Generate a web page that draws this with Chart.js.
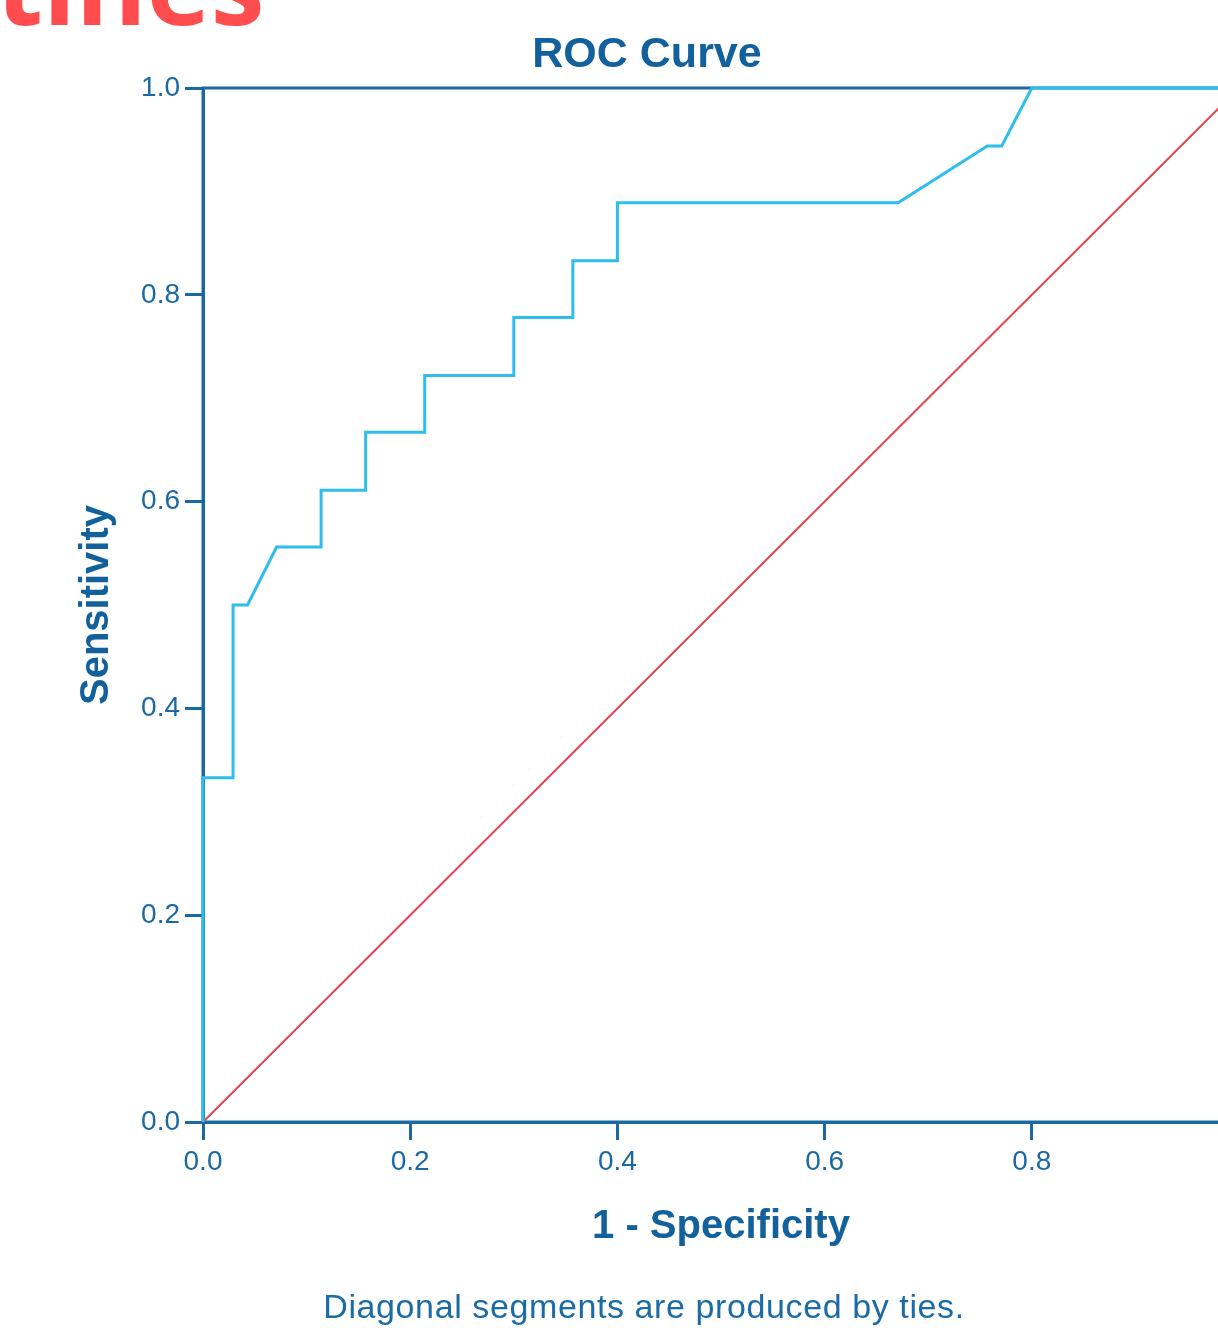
<!DOCTYPE html>
<html>
<head>
<meta charset="utf-8">
<script src="https://cdn.jsdelivr.net/npm/chart.js@4"></script>
<style>
    html, body { margin: 0; padding: 0; background: #fff; overflow: hidden; }
    body { width: 1218px; height: 1335px; position: relative; }
    #heading {
        position: absolute; left: -4px; top: -70px;
        font-family: "Open Sans"; font-weight: 700; font-size: 108px;
        line-height: 108px; color: #ff4d4f; white-space: nowrap;
    }
    #myChart { position: absolute; left: 0; top: 0; }
</style>
</head>
<body>
<div id="heading">tines</div>
<canvas id="myChart" width="1292" height="1335"></canvas>
<script>
// ROC curve
var fpr = [0, 0, 0.029, 0.029, 0.043, 0.071, 0.114, 0.114, 0.157, 0.157, 0.214, 0.214,
           0.300, 0.300, 0.357, 0.357, 0.400, 0.400, 0.671, 0.757, 0.771, 0.800, 1.000];
var tpr = [0, 0.333, 0.333, 0.500, 0.500, 0.556, 0.556, 0.611, 0.611, 0.667, 0.667, 0.722,
           0.722, 0.778, 0.778, 0.833, 0.833, 0.889, 0.889, 0.944, 0.944, 1.000, 1.000];
var refX = [0, 1];
var refY = [0, 1];
var tickValues = [0, 0.2, 0.4, 0.6, 0.8, 1.0];

var blue = "#1b69a3";
var textBlue = "#12619c";

document.addEventListener("DOMContentLoaded", function() {

    var ctx = document.getElementById("myChart").getContext("2d");

    function toPoints(xs, ys) {
        var pts = [];
        for (var i = 0; i < xs.length; i++) {
            pts.push({x: xs[i], y: ys[i]});
        }
        return pts;
    }

    // box round the plot, title and footnote
    var frame = {
        id: "frame",
        beforeDatasetsDraw: function(chart) {
            var a = chart.chartArea;
            var c = chart.ctx;
            c.save();
            c.strokeStyle = blue;
            c.lineWidth = 3;
            c.strokeRect(a.left, a.top, a.right - a.left, a.bottom - a.top);
            c.restore();
        },
        afterDraw: function(chart) {
            var c = chart.ctx;
            c.save();
            c.fillStyle = textBlue;
            c.textAlign = "center";
            c.textBaseline = "alphabetic";
            c.font = "bold 43px 'Liberation Sans'";
            c.fillText("ROC Curve", 647, 67);
            c.font = "34px 'Liberation Sans'";
            c.letterSpacing = "0.6px";
            c.fillStyle = "#1a6ba6";
            c.fillText("Diagonal segments are produced by ties.", 644, 1318);
            c.restore();
        }
    };

    var axis = function(titleText, titlePad) {
        return {
            type: "linear",
            min: 0,
            max: 1,
            afterBuildTicks: function(scale) {
                scale.ticks = tickValues.map(function(v) { return {value: v}; });
            },
            ticks: {
                color: blue,
                font: {family: "Liberation Sans", size: 28},
                padding: 5,
                callback: function(v) { return v.toFixed(1); }
            },
            grid: {
                drawOnChartArea: false,
                drawTicks: true,
                tickLength: 18,
                tickWidth: 3,
                tickColor: blue
            },
            border: {display: true, color: blue, width: 3},
            title: {
                display: true,
                text: titleText,
                color: textBlue,
                font: {family: "Liberation Sans", size: 40, weight: "bold"},
                padding: titlePad
            }
        };
    };

    var xAxis = axis("1 - Specificity", {top: 0, bottom: 84});
    xAxis.afterFit = function(scale) { scale.height = 213; };
    var yAxis = axis("Sensitivity", {top: 73, bottom: 0});
    yAxis.afterFit = function(scale) { scale.width = 203; };

    var myChart = new Chart(ctx, {
        type: "scatter",
        data: {
            datasets: [{
                label: "ROC",
                data: toPoints(fpr, tpr),
                showLine: true,
                borderColor: "#2fbdee",
                borderWidth: 3,
                pointRadius: 0,
                fill: false,
                clip: false
            }, {
                label: "Reference Line",
                data: toPoints(refX, refY),
                showLine: true,
                borderColor: "#e2474f",
                borderWidth: 2,
                pointRadius: 0,
                fill: false,
                clip: false
            }]
        },
        options: {
            responsive: false,
            animation: false,
            layout: {padding: {top: 88, left: 0, right: 53, bottom: 0}},
            plugins: {
                legend: {display: false},
                tooltip: {enabled: false}
            },
            scales: {x: xAxis, y: yAxis}
        },
        plugins: [frame]
    });
});
</script>
</body>
</html>
